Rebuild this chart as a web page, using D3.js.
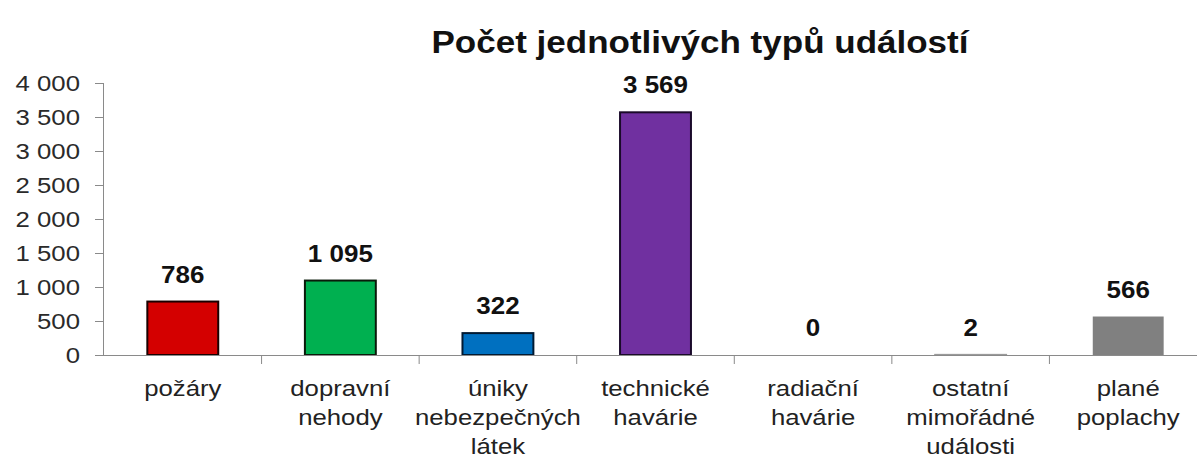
<!DOCTYPE html>
<html lang="cs">
<head>
    <meta charset="UTF-8">
    <title>Počet jednotlivých typů událostí</title>
    <script src="https://cdnjs.cloudflare.com/ajax/libs/d3/7.8.5/d3.min.js"></script>
    <style>
        body { margin: 0; background: #fff; font-family: "Liberation Sans", Arial, sans-serif; }
        svg { display: block; }
    </style>
</head>
<body>
    <div id="chart"></div>
    <script>
        // data
        const categories = [
            ["požáry"],
            ["dopravní", "nehody"],
            ["úniky", "nebezpečných", "látek"],
            ["technické", "havárie"],
            ["radiační", "havárie"],
            ["ostatní", "mimořádné", "události"],
            ["plané", "poplachy"]
        ];
        const values = [786, 1095, 322, 3569, 0, 2, 566];
        const barColors = ["#d40000", "#00b050", "#0070c0", "#7030a0", "#808080", "#808080", "#808080"];
        const barStrokes = ["#1a0000", "#0a1a0a", "#001a33", "#1a0a2a", "none", "#9a9a9a", "none"];
        const yTicks = [0, 500, 1000, 1500, 2000, 2500, 3000, 3500, 4000];

        const width = 1197, height = 463;
        const mLeft = 104, mRight = 1207, mTop = 83, mBottom = 355;
        // the source picture is a bit wider than tall, text looks stretched
        const sxText = 1.17, sxBold = 1.13;

        const svg = d3.select("#chart").append("svg")
            .attr("width", width)
            .attr("height", height);

        const fmt = v => d3.format(",")(v).replace(/,/g, " ");

        const x = d3.scaleBand()
            .domain(d3.range(values.length))
            .range([mLeft, mRight])
            .paddingInner(0.55)
            .paddingOuter(0.275);

        const step = x.step();

        const y = d3.scaleLinear()
            .domain([0, 4000])
            .range([mBottom, mTop]);

        // title
        svg.append("text")
            .attr("transform", `translate(700,53) scale(${sxBold},1)`)
            .attr("text-anchor", "middle")
            .attr("font-size", 31)
            .attr("font-weight", "bold")
            .attr("fill", "#111")
            .text("Počet jednotlivých typů událostí");

        // y axis
        const yAxis = svg.append("g")
            .attr("transform", `translate(${mLeft},0)`)
            .call(d3.axisLeft(y).tickValues(yTicks).tickFormat(fmt).tickSize(9));
        yAxis.select(".domain").attr("stroke", "#8a8a8a").attr("d", `M-0.5,${mTop}V${mBottom}`);
        yAxis.selectAll(".tick line").attr("stroke", "#8a8a8a");
        yAxis.selectAll(".tick text")
            .attr("x", 0)
            .attr("dy", "0.36em")
            .attr("transform", `translate(-24,0) scale(${sxText},1)`)
            .attr("font-size", 22)
            .attr("font-family", "'Liberation Sans', Arial, sans-serif")
            .attr("fill", "#2a2a2a");

        // bars
        svg.append("g")
            .selectAll("rect")
            .data(values)
            .join("rect")
            .attr("x", (d, i) => x(i))
            .attr("y", d => y(d))
            .attr("width", x.bandwidth())
            .attr("height", d => mBottom - y(d))
            .attr("fill", (d, i) => barColors[i])
            .attr("stroke", (d, i) => barStrokes[i])
            .attr("stroke-width", 2);

        // x axis line with ticks between categories
        const xa = svg.append("g");
        xa.append("line")
            .attr("x1", mLeft - 9).attr("x2", width)
            .attr("y1", mBottom + 0.5).attr("y2", mBottom + 0.5)
            .attr("stroke", "#8a8a8a");
        xa.selectAll("line.sep")
            .data(d3.range(1, values.length + 1))
            .join("line")
            .attr("class", "sep")
            .attr("x1", i => mLeft + i * step).attr("x2", i => mLeft + i * step)
            .attr("y1", mBottom).attr("y2", mBottom + 9)
            .attr("stroke", "#8a8a8a");

        // value labels
        svg.append("g")
            .selectAll("text")
            .data(values)
            .join("text")
            .attr("transform", (d, i) => `translate(${x(i) + x.bandwidth() / 2},${y(d) - 19}) scale(${sxBold},1)`)
            .attr("text-anchor", "middle")
            .attr("font-size", 23)
            .attr("font-weight", "bold")
            .attr("fill", "#111")
            .text(d => fmt(d));

        // category labels
        const cat = svg.append("g")
            .selectAll("text")
            .data(categories)
            .join("text")
            .attr("transform", (d, i) => `translate(${x(i) + x.bandwidth() / 2},396) scale(${sxText},1)`)
            .attr("text-anchor", "middle")
            .attr("font-size", 22)
            .attr("fill", "#222");
        cat.selectAll("tspan")
            .data(d => d)
            .join("tspan")
            .attr("x", 0)
            .attr("dy", (d, i) => i === 0 ? 0 : 29)
            .text(d => d);
    </script>
</body>
</html>
